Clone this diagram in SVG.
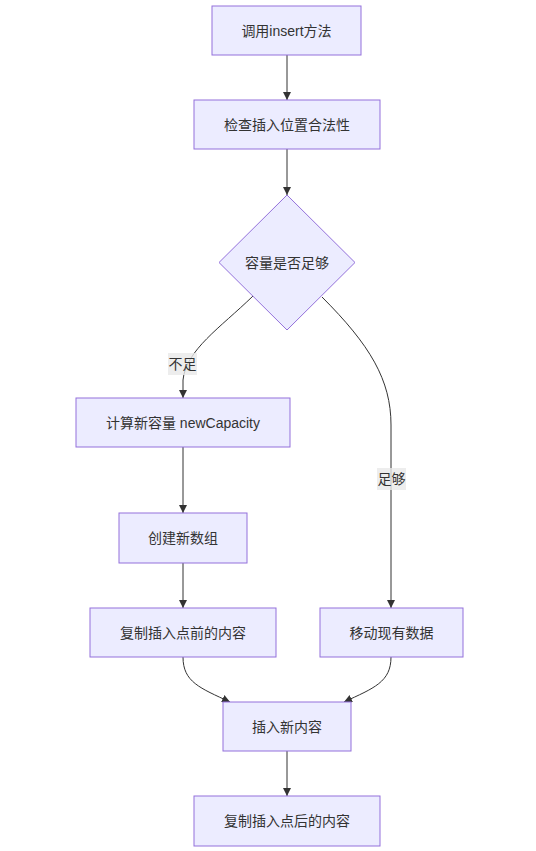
<svg xmlns="http://www.w3.org/2000/svg" width="536" height="851" viewBox="0 0 536 851">
<defs>
<style>
.node rect,.node polygon{fill:#ECECFF;stroke:#9370DB;stroke-width:1px}
.node text{font-family:"Liberation Sans","Noto Sans CJK SC",sans-serif;font-size:14px;fill:#333;text-anchor:middle;dominant-baseline:central}
.edge{fill:none;stroke:#333;stroke-width:1px}
.lbl rect{fill:#E8E8E8;opacity:0.8}
.lbl text{font-family:"Liberation Sans","Noto Sans CJK SC",sans-serif;font-size:14px;fill:#333;text-anchor:middle;dominant-baseline:central}
</style>
<marker id="arr" viewBox="0 0 10 10" refX="10" refY="5" markerWidth="8" markerHeight="8" orient="auto" markerUnits="userSpaceOnUse">
<path d="M0,0 L10,5 L0,10 z" fill="#333"/>
</marker>
</defs>
<rect width="536" height="851" fill="#fff"/>
<g id="connectors">
<path class="edge" d="M287,55 L287,100" marker-end="url(#arr)"/>
<path class="edge" d="M287,149 L287,195" marker-end="url(#arr)"/>
<path class="edge" d="M253,296 C220,328 186,350 183,380 L183,398" marker-end="url(#arr)"/>
<path class="edge" d="M322,297 C370,345 391,380 391,425 L391,608" marker-end="url(#arr)"/>
<path class="edge" d="M183,447 L183,513" marker-end="url(#arr)"/>
<path class="edge" d="M183,563 L183,608" marker-end="url(#arr)"/>
<path class="edge" d="M183,657 C183,682 200,688 230,702" marker-end="url(#arr)"/>
<path class="edge" d="M391,657 C391,682 374,688 344,702" marker-end="url(#arr)"/>
<path class="edge" d="M287,751 L287,796" marker-end="url(#arr)"/>
<g class="lbl"><rect x="168" y="353" width="29" height="22"/><text x="182.5" y="364">不足</text></g>
<g class="lbl"><rect x="377" y="468" width="29" height="22"/><text x="391.5" y="479">足够</text></g>
</g>
<g id="n1" class="node"><rect x="212" y="6" width="149" height="49"/><text x="286.5" y="30.5">调用insert方法</text></g>
<g id="n2" class="node"><rect x="194" y="100" width="186" height="49"/><text x="287" y="124.5">检查插入位置合法性</text></g>
<g id="n3" class="node"><polygon points="287,195 355,262.5 287,330 219,262.5"/><text x="287" y="262.5">容量是否足够</text></g>
<g id="n4" class="node"><rect x="76" y="398" width="214" height="49"/><text x="183" y="422.5">计算新容量 newCapacity</text></g>
<g id="n5" class="node"><rect x="119" y="513" width="128" height="50"/><text x="183" y="538">创建新数组</text></g>
<g id="n6" class="node"><rect x="90" y="608" width="186" height="49"/><text x="183" y="632.5">复制插入点前的内容</text></g>
<g id="n7" class="node"><rect x="320" y="608" width="143" height="49"/><text x="391.5" y="632.5">移动现有数据</text></g>
<g id="n8" class="node"><rect x="223" y="702" width="128" height="49"/><text x="287" y="726.5">插入新内容</text></g>
<g id="n9" class="node"><rect x="194" y="796" width="186" height="50"/><text x="287" y="821">复制插入点后的内容</text></g>
</svg>
